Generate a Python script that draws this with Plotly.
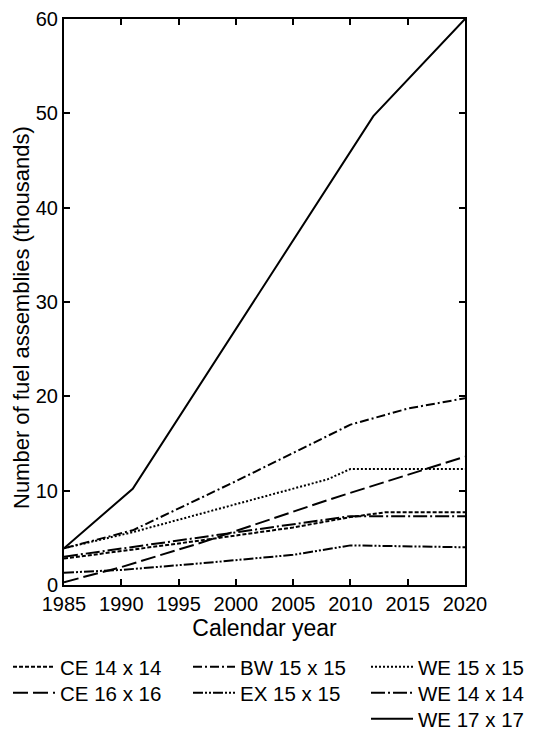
import plotly.graph_objects as go

# ---- data ----
ce14_years = [1985, 1995, 2005, 2010, 2013, 2020]
ce14_vals = [2.8, 4.4, 6.1, 7.2, 7.7, 7.7]

ce16_years = [1985, 1990, 1997, 2008, 2020]
ce16_vals = [0.3, 1.9, 4.5, 9.0, 13.6]

bw15_years = [1985, 1991, 2000, 2010, 2015, 2020]
bw15_vals = [3.9, 5.8, 11.0, 17.0, 18.7, 19.8]

ex15_years = [1985, 1990, 1997, 2005, 2010, 2020]
ex15_vals = [1.3, 1.6, 2.3, 3.2, 4.2, 4.0]

we15_years = [1985, 1991, 2008, 2010, 2020]
we15_vals = [3.9, 5.6, 11.2, 12.3, 12.3]

we14_years = [1985, 1995, 2005, 2010, 2020]
we14_vals = [3.0, 4.7, 6.4, 7.3, 7.3]

we17_years = [1985, 1991, 2012, 2020]
we17_vals = [3.9, 10.2, 49.7, 60.0]

x_ticks = [1985, 1990, 1995, 2000, 2005, 2010, 2015, 2020]
y_ticks = [0, 10, 20, 30, 40, 50, 60]

FONT = "Liberation Sans, Arial, Helvetica, sans-serif"

# the page body has an 8px default margin; work in page pixels and convert
OFF = 8
W, H = 535 - OFF, 735 - OFF
L, R, T, B = 64 - OFF, 465 - OFF, 19 - OFF, 585 - OFF

def px_x(p):
    return (p - OFF - L) / (R - L)

def px_y(p):
    return (B - (p - OFF)) / (B - T)

# legend slots in page pixels: (column box left, row centre)
col_left = [8, 188, 366]
row_mid = [667, 693, 719]

series = [
    ("CE 14 x 14", ce14_years, ce14_vals, "4px,2px", 0, 0),
    ("CE 16 x 16", ce16_years, ce16_vals, "15px,5px", 0, 1),
    ("BW 15 x 15", bw15_years, bw15_vals, "9px,3px,2px,3px", 1, 0),
    ("EX 15 x 15", ex15_years, ex15_vals, "10px,2px,2px,2px,2px,2px", 1, 1),
    ("WE 15 x 15", we15_years, we15_vals, "2px,2px", 2, 0),
    ("WE 14 x 14", we14_years, we14_vals, "14px,3px,2px,3px", 2, 1),
    ("WE 17 x 17", we17_years, we17_vals, "solid", 2, 2),
]

fig = go.Figure()
legends = {}
for i, (name, xs, ys, dash, col, row) in enumerate(series):
    key = "legend" if i == 0 else f"legend{i + 1}"
    fig.add_trace(go.Scatter(
        x=xs, y=ys, mode="lines", name=name, legend=key,
        line=dict(color="black", width=2, dash=dash),
        hoverinfo="skip",
    ))
    legends[key] = dict(
        x=px_x(col_left[col]), y=px_y(row_mid[row]),
        xanchor="left", yanchor="middle", orientation="v",
        font=dict(family=FONT, size=20.5, color="black"),
        bgcolor="rgba(0,0,0,0)", itemwidth=42,
    )

fig.update_layout(
    width=W, height=H,
    margin=dict(l=L, r=W - R, t=T, b=H - B, autoexpand=False),
    paper_bgcolor="white", plot_bgcolor="white",
    font=dict(family=FONT, size=20, color="black"),
    showlegend=True,
    xaxis=dict(
        range=[1985, 2020], tickvals=x_ticks, ticktext=[str(t) for t in x_ticks],
        showgrid=False, zeroline=False, showline=True, linecolor="black", linewidth=2,
        mirror="ticks", ticks="inside", ticklen=6, tickwidth=1.5, tickcolor="black",
        tickfont=dict(size=20), fixedrange=True, automargin=False,
        ticklabeloverflow="allow",
        title=dict(text="Calendar year", font=dict(size=23), standoff=2),
    ),
    yaxis=dict(
        range=[0, 60], tickvals=y_ticks,
        showgrid=False, zeroline=False, showline=True, linecolor="black", linewidth=2,
        mirror="ticks", ticks="inside", ticklen=6, tickwidth=1.5, tickcolor="black",
        tickfont=dict(size=20), fixedrange=True, automargin=False,
        ticklabeloverflow="allow",
    ),
    annotations=[dict(
        text="Number of fuel assemblies (thousands)", textangle=-90,
        xref="paper", yref="paper", x=px_x(21), y=px_y(318),
        xanchor="center", yanchor="middle", showarrow=False,
        font=dict(family=FONT, size=22, color="black"),
    )],
    **legends,
)

fig.write_html("out.html")
